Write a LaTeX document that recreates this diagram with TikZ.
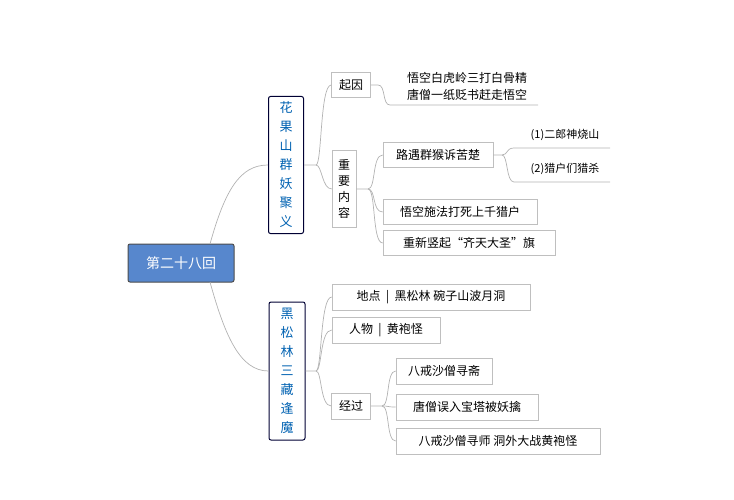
\documentclass[tikz,border=0pt]{standalone}
\usepackage{fontspec}
\setmainfont{Noto Sans CJK SC}
\begin{document}
\begin{tikzpicture}[x=1pt,y=-1pt,
 lbox/.style={draw=black!25,line width=0.6pt,fill=white,font=\fontsize{12}{14}\selectfont,inner sep=0pt,anchor=center},
 vbox/.style={lbox,align=center,font=\fontsize{12}{16}\selectfont},
 main/.style={draw=black!80!blue,line width=1pt,rounded corners=2pt,fill=white,text=blue!45!cyan!70!black,align=center,font=\fontsize{13}{19}\selectfont,inner sep=0pt},
 ln/.style={draw=black!30,line width=0.7pt},
 plain/.style={font=\fontsize{12}{14}\selectfont,inner sep=0pt,anchor=center}]
\useasboundingbox (0,0) rectangle (734,500);
% root
\node[fill=cyan!45!blue!70!white,draw=black!70,line width=1pt,rounded corners=2pt,text=white,minimum width=106pt,minimum height=38pt,font=\fontsize{14}{16}\selectfont] (r) at (181,263) {第二十八回};
\node[main,minimum width=35pt,minimum height=137pt] (a) at (286,165) {花\\果\\山\\群\\妖\\聚\\义};
\node[main,minimum width=36pt,minimum height=138pt] (b) at (287,371) {黑\\松\\林\\三\\藏\\逢\\魔};
\draw[ln] (210,244) .. controls (225,190) and (240,165) .. (a.west);
\draw[ln] (210,282) .. controls (225,336) and (240,371) .. (b.west);
% upper branch
\node[lbox,minimum width=39pt,minimum height=25pt] (q) at (351,85) {起因};
\node[vbox,minimum width=24pt,minimum height=77pt] (z) at (344,189) {重\\要\\内\\容};
\draw[ln] (a.east) -- (316,165) .. controls (322,165) and (320,85) .. (q.west);
\draw[ln] (316,165) .. controls (322,165) and (322,189) .. (z.west);
\node[plain,align=left,font=\fontsize{12}{17}\selectfont] (q1) at (467,86) {悟空白虎岭三打白骨精\\唐僧一纸贬书赶走悟空};
\coordinate (q1a) at (390,105); \coordinate (q1b) at (538,105);
\draw[ln] (q.east) -- (378,85) .. controls (386,85) and (382,105) .. (q1a) -- (q1b);
\node[lbox,minimum width=110pt,minimum height=25pt] (z1) at (438,155) {路遇群猴诉苦楚};
\node[lbox,minimum width=154pt,minimum height=25pt] (z2) at (460,212) {悟空施法打死上千猎户};
\node[lbox,minimum width=172pt,minimum height=25pt] (z3) at (469,243) {重新竖起“齐天大圣”旗};
\draw[ln] (z.east) -- (368,189) .. controls (376,189) and (372,155) .. (z1.west);
\draw[ln] (368,189) .. controls (376,189) and (372,212) .. (z2.west);
\draw[ln] (368,189) .. controls (376,189) and (372,243) .. (z3.west);
\node[plain,font=\fontsize{11}{13}\selectfont] (y1) at (565,135) {(1)二郎神烧山};
\node[plain,font=\fontsize{11}{13}\selectfont] (y2) at (565,169) {(2)猎户们猎杀};
\coordinate (y1b) at (610,148); \coordinate (y2b) at (610,182);
\draw[ln] (z1.east) -- (502,155) .. controls (508,155) and (506,148) .. (514,148) -- (y1b);
\draw[ln] (502,155) .. controls (508,155) and (506,182) .. (514,182) -- (y2b);
% lower branch
\node[lbox,minimum width=198pt,minimum height=26pt] (d) at (431,297) {地点 \ | \ 黑松林 碗子山波月洞};
\node[lbox,minimum width=108pt,minimum height=26pt] (p) at (386,330) {人物 \ | \ 黄袍怪};
\node[lbox,minimum width=39pt,minimum height=26pt] (g) at (351,406) {经过};
\draw[ln] (b.east) -- (316,371) .. controls (322,371) and (320,297) .. (d.west);
\draw[ln] (316,371) .. controls (322,371) and (320,330) .. (p.west);
\draw[ln] (316,371) .. controls (322,371) and (320,406) .. (g.west);
\node[lbox,minimum width=96pt,minimum height=26pt] (g1) at (444,371) {八戒沙僧寻斋};
\node[lbox,minimum width=142pt,minimum height=26pt] (g2) at (467,407) {唐僧误入宝塔被妖擒};
\node[lbox,minimum width=204pt,minimum height=26pt] (g3) at (498,441) {八戒沙僧寻师 洞外大战黄袍怪};
\draw[ln] (g.east) -- (382,406) .. controls (390,406) and (386,371) .. (g1.west);
\draw[ln] (382,406) .. controls (390,406) and (386,407) .. (g2.west);
\draw[ln] (382,406) .. controls (390,406) and (386,441) .. (g3.west);
\end{tikzpicture}
\end{document}
